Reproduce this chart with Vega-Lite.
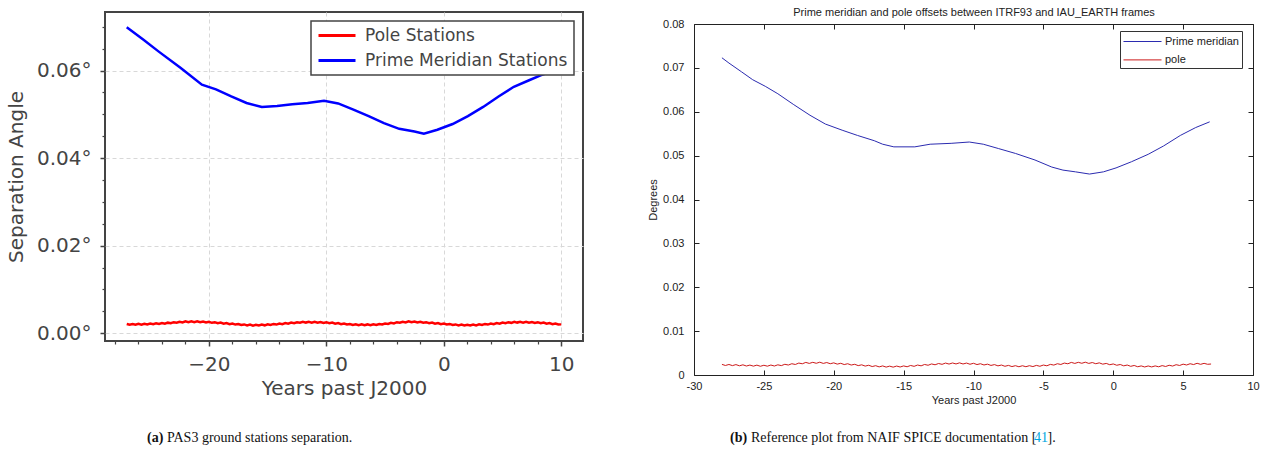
{
  "$schema": "https://vega.github.io/schema/vega-lite/v6.json",
  "background": "white",
  "padding": {"left": 5, "top": 6, "right": 5, "bottom": 5},
  "spacing": 63,
  "align": "none",
  "datasets": {
    "lpm": [
      {"t": -27, "v": 0.0699}, {"t": -25.6, "v": 0.0671}, {"t": -24.3, "v": 0.0644}, {"t": -22.4, "v": 0.0606},
      {"t": -20.6, "v": 0.0568}, {"t": -19.4, "v": 0.0557}, {"t": -18.1, "v": 0.0541}, {"t": -16.8, "v": 0.0526},
      {"t": -15.5, "v": 0.0517}, {"t": -14.2, "v": 0.0519}, {"t": -12.9, "v": 0.0523}, {"t": -11.6, "v": 0.0526},
      {"t": -10.2, "v": 0.0531}, {"t": -9.0, "v": 0.0525}, {"t": -7.7, "v": 0.0511}, {"t": -6.4, "v": 0.0496},
      {"t": -5.1, "v": 0.048}, {"t": -3.8, "v": 0.0467}, {"t": -2.5, "v": 0.0461}, {"t": -1.7, "v": 0.0456},
      {"t": -0.55, "v": 0.0465}, {"t": 0.75, "v": 0.0478}, {"t": 2.05, "v": 0.0496}, {"t": 3.35, "v": 0.0517},
      {"t": 4.66, "v": 0.0541}, {"t": 5.96, "v": 0.0563}, {"t": 7.26, "v": 0.0578}, {"t": 8.24, "v": 0.0589},
      {"t": 9.1, "v": 0.0597}, {"t": 10, "v": 0.0604}
    ],
    "lpole": [
      {"t": -27, "v": 0.0021}, {"t": -26.75, "v": 0.00191}, {"t": -26.5, "v": 0.00209}, {"t": -26.25, "v": 0.0019},
      {"t": -26, "v": 0.00211}, {"t": -25.75, "v": 0.00193}, {"t": -25.5, "v": 0.00214}, {"t": -25.25, "v": 0.00198},
      {"t": -25, "v": 0.00219}, {"t": -24.75, "v": 0.00203}, {"t": -24.5, "v": 0.00226}, {"t": -24.25, "v": 0.00208},
      {"t": -24, "v": 0.00231}, {"t": -23.75, "v": 0.00214}, {"t": -23.5, "v": 0.00239}, {"t": -23.25, "v": 0.00226},
      {"t": -23, "v": 0.0025}, {"t": -22.75, "v": 0.00236}, {"t": -22.5, "v": 0.00259}, {"t": -22.25, "v": 0.00245},
      {"t": -22, "v": 0.00271}, {"t": -21.75, "v": 0.00251}, {"t": -21.5, "v": 0.00269}, {"t": -21.25, "v": 0.0025},
      {"t": -21, "v": 0.0027}, {"t": -20.75, "v": 0.00249}, {"t": -20.5, "v": 0.00266}, {"t": -20.25, "v": 0.00243},
      {"t": -20, "v": 0.00261}, {"t": -19.75, "v": 0.00236}, {"t": -19.5, "v": 0.0025}, {"t": -19.25, "v": 0.00226},
      {"t": -19, "v": 0.0024}, {"t": -18.75, "v": 0.00216}, {"t": -18.5, "v": 0.00229}, {"t": -18.25, "v": 0.00205},
      {"t": -18, "v": 0.00221}, {"t": -17.75, "v": 0.00196}, {"t": -17.5, "v": 0.00209}, {"t": -17.25, "v": 0.00186},
      {"t": -17, "v": 0.00199}, {"t": -16.75, "v": 0.00178}, {"t": -16.5, "v": 0.00196}, {"t": -16.25, "v": 0.00172},
      {"t": -16, "v": 0.00191}, {"t": -15.75, "v": 0.00173}, {"t": -15.5, "v": 0.00194}, {"t": -15.25, "v": 0.00178},
      {"t": -15, "v": 0.002}, {"t": -14.75, "v": 0.00185}, {"t": -14.5, "v": 0.0021}, {"t": -14.25, "v": 0.00196},
      {"t": -14, "v": 0.00221}, {"t": -13.75, "v": 0.00206}, {"t": -13.5, "v": 0.00229}, {"t": -13.25, "v": 0.00215},
      {"t": -13, "v": 0.0024}, {"t": -12.75, "v": 0.00226}, {"t": -12.5, "v": 0.00249}, {"t": -12.25, "v": 0.00236},
      {"t": -12, "v": 0.0026}, {"t": -11.75, "v": 0.00241}, {"t": -11.5, "v": 0.00259}, {"t": -11.25, "v": 0.0024},
      {"t": -11, "v": 0.00261}, {"t": -10.75, "v": 0.00239}, {"t": -10.5, "v": 0.00255}, {"t": -10.25, "v": 0.00233},
      {"t": -10, "v": 0.0025}, {"t": -9.75, "v": 0.00226}, {"t": -9.5, "v": 0.0024}, {"t": -9.25, "v": 0.00216},
      {"t": -9, "v": 0.00229}, {"t": -8.75, "v": 0.00206}, {"t": -8.5, "v": 0.0022}, {"t": -8.25, "v": 0.00196},
      {"t": -8, "v": 0.0021}, {"t": -7.75, "v": 0.00188}, {"t": -7.5, "v": 0.00204}, {"t": -7.25, "v": 0.00183},
      {"t": -7, "v": 0.002}, {"t": -6.75, "v": 0.00181}, {"t": -6.5, "v": 0.00199}, {"t": -6.25, "v": 0.0018},
      {"t": -6, "v": 0.00201}, {"t": -5.75, "v": 0.00185}, {"t": -5.5, "v": 0.00209}, {"t": -5.25, "v": 0.00196},
      {"t": -5, "v": 0.0022}, {"t": -4.75, "v": 0.00208}, {"t": -4.5, "v": 0.00235}, {"t": -4.25, "v": 0.00223},
      {"t": -4, "v": 0.0025}, {"t": -3.75, "v": 0.00236}, {"t": -3.5, "v": 0.0026}, {"t": -3.25, "v": 0.00245},
      {"t": -3, "v": 0.00271}, {"t": -2.75, "v": 0.00248}, {"t": -2.5, "v": 0.00265}, {"t": -2.25, "v": 0.00243},
      {"t": -2, "v": 0.00259}, {"t": -1.75, "v": 0.00236}, {"t": -1.5, "v": 0.0025}, {"t": -1.25, "v": 0.00226},
      {"t": -1, "v": 0.0024}, {"t": -0.75, "v": 0.00216}, {"t": -0.5, "v": 0.00229}, {"t": -0.25, "v": 0.00205},
      {"t": 0, "v": 0.0022}, {"t": 0.25, "v": 0.00196}, {"t": 0.5, "v": 0.0021}, {"t": 0.75, "v": 0.00186},
      {"t": 1, "v": 0.00199}, {"t": 1.25, "v": 0.00178}, {"t": 1.5, "v": 0.00195}, {"t": 1.75, "v": 0.00173},
      {"t": 2, "v": 0.0019}, {"t": 2.25, "v": 0.00173}, {"t": 2.5, "v": 0.00195}, {"t": 2.75, "v": 0.00178},
      {"t": 3, "v": 0.002}, {"t": 3.25, "v": 0.00185}, {"t": 3.5, "v": 0.0021}, {"t": 3.75, "v": 0.00196},
      {"t": 4, "v": 0.00221}, {"t": 4.25, "v": 0.00205}, {"t": 4.5, "v": 0.0023}, {"t": 4.75, "v": 0.00216},
      {"t": 5, "v": 0.0024}, {"t": 5.25, "v": 0.00226}, {"t": 5.5, "v": 0.0025}, {"t": 5.75, "v": 0.00235},
      {"t": 6, "v": 0.0026}, {"t": 6.25, "v": 0.00241}, {"t": 6.5, "v": 0.00259}, {"t": 6.75, "v": 0.0024},
      {"t": 7, "v": 0.00261}, {"t": 7.25, "v": 0.00238}, {"t": 7.5, "v": 0.00255}, {"t": 7.75, "v": 0.00233},
      {"t": 8, "v": 0.0025}, {"t": 8.25, "v": 0.00225}, {"t": 8.5, "v": 0.0024}, {"t": 8.75, "v": 0.00216},
      {"t": 9, "v": 0.00229}, {"t": 9.25, "v": 0.00205}, {"t": 9.5, "v": 0.0022}, {"t": 9.75, "v": 0.00196},
      {"t": 10, "v": 0.002}
    ],
    "rpm": [
      {"t": -28, "v": 0.0723}, {"t": -27.5, "v": 0.0711}, {"t": -26.6, "v": 0.0691}, {"t": -25.8, "v": 0.0673},
      {"t": -24.9, "v": 0.0658}, {"t": -24.0, "v": 0.0641}, {"t": -22.9, "v": 0.0617}, {"t": -21.7, "v": 0.0592},
      {"t": -20.6, "v": 0.0572}, {"t": -19.4, "v": 0.0558}, {"t": -18.3, "v": 0.0546}, {"t": -17.1, "v": 0.0534},
      {"t": -16.5, "v": 0.0526}, {"t": -15.7, "v": 0.052}, {"t": -14.2, "v": 0.052}, {"t": -13.1, "v": 0.0526},
      {"t": -11.6, "v": 0.0528}, {"t": -10.3, "v": 0.0531}, {"t": -9.3, "v": 0.0526}, {"t": -8.2, "v": 0.0516},
      {"t": -7.0, "v": 0.0505}, {"t": -5.6, "v": 0.049}, {"t": -4.4, "v": 0.0474}, {"t": -3.6, "v": 0.0467},
      {"t": -2.7, "v": 0.0463}, {"t": -1.7, "v": 0.0458}, {"t": -0.7, "v": 0.0463}, {"t": 0.2, "v": 0.0472},
      {"t": 1.3, "v": 0.0486}, {"t": 2.5, "v": 0.0503}, {"t": 3.6, "v": 0.0522}, {"t": 4.8, "v": 0.0546},
      {"t": 5.9, "v": 0.0564}, {"t": 6.9, "v": 0.0577}
    ],
    "rpole": [
      {"t": -28, "v": 0.00242}, {"t": -27.75, "v": 0.00217}, {"t": -27.5, "v": 0.0024}, {"t": -27.25, "v": 0.00214},
      {"t": -27, "v": 0.00237}, {"t": -26.75, "v": 0.0021}, {"t": -26.5, "v": 0.00232}, {"t": -26.25, "v": 0.00205},
      {"t": -26, "v": 0.00226}, {"t": -25.75, "v": 0.00202}, {"t": -25.5, "v": 0.00225}, {"t": -25.25, "v": 0.00199},
      {"t": -25, "v": 0.00222}, {"t": -24.75, "v": 0.00201}, {"t": -24.5, "v": 0.00227}, {"t": -24.25, "v": 0.00205},
      {"t": -24, "v": 0.00232}, {"t": -23.75, "v": 0.00214}, {"t": -23.5, "v": 0.00244}, {"t": -23.25, "v": 0.00227},
      {"t": -23, "v": 0.00257}, {"t": -22.75, "v": 0.0024}, {"t": -22.5, "v": 0.00272}, {"t": -22.25, "v": 0.00256},
      {"t": -22, "v": 0.00287}, {"t": -21.75, "v": 0.00264}, {"t": -21.5, "v": 0.00289}, {"t": -21.25, "v": 0.00267},
      {"t": -21, "v": 0.00292}, {"t": -20.75, "v": 0.00264}, {"t": -20.5, "v": 0.00284}, {"t": -20.25, "v": 0.00257},
      {"t": -20, "v": 0.00277}, {"t": -19.75, "v": 0.00248}, {"t": -19.5, "v": 0.00267}, {"t": -19.25, "v": 0.00238},
      {"t": -19, "v": 0.00257}, {"t": -18.75, "v": 0.00227}, {"t": -18.5, "v": 0.00244}, {"t": -18.25, "v": 0.00214},
      {"t": -18, "v": 0.00232}, {"t": -17.75, "v": 0.00203}, {"t": -17.5, "v": 0.00222}, {"t": -17.25, "v": 0.00193},
      {"t": -17, "v": 0.00212}, {"t": -16.75, "v": 0.00185}, {"t": -16.5, "v": 0.00207}, {"t": -16.25, "v": 0.0018},
      {"t": -16, "v": 0.00202}, {"t": -15.75, "v": 0.00179}, {"t": -15.5, "v": 0.00204}, {"t": -15.25, "v": 0.00182},
      {"t": -15, "v": 0.00207}, {"t": -14.75, "v": 0.00188}, {"t": -14.5, "v": 0.00217}, {"t": -14.25, "v": 0.00198},
      {"t": -14, "v": 0.00227}, {"t": -13.75, "v": 0.00209}, {"t": -13.5, "v": 0.0024}, {"t": -13.25, "v": 0.00222},
      {"t": -13, "v": 0.00252}, {"t": -12.75, "v": 0.00233}, {"t": -12.5, "v": 0.00262}, {"t": -12.25, "v": 0.00243},
      {"t": -12, "v": 0.00272}, {"t": -11.75, "v": 0.00249}, {"t": -11.5, "v": 0.00274}, {"t": -11.25, "v": 0.00252},
      {"t": -11, "v": 0.00277}, {"t": -10.75, "v": 0.00251}, {"t": -10.5, "v": 0.00272}, {"t": -10.25, "v": 0.00245},
      {"t": -10, "v": 0.00267}, {"t": -9.75, "v": 0.00238}, {"t": -9.5, "v": 0.00257}, {"t": -9.25, "v": 0.00228},
      {"t": -9, "v": 0.00247}, {"t": -8.75, "v": 0.00218}, {"t": -8.5, "v": 0.00237}, {"t": -8.25, "v": 0.00208},
      {"t": -8, "v": 0.00227}, {"t": -7.75, "v": 0.00199}, {"t": -7.5, "v": 0.00219}, {"t": -7.25, "v": 0.00192},
      {"t": -7, "v": 0.00212}, {"t": -6.75, "v": 0.00188}, {"t": -6.5, "v": 0.00211}, {"t": -6.25, "v": 0.00189},
      {"t": -6, "v": 0.00212}, {"t": -5.75, "v": 0.00192}, {"t": -5.5, "v": 0.00219}, {"t": -5.25, "v": 0.00199},
      {"t": -5, "v": 0.00227}, {"t": -4.75, "v": 0.0021}, {"t": -4.5, "v": 0.00242}, {"t": -4.25, "v": 0.00226},
      {"t": -4, "v": 0.00257}, {"t": -3.75, "v": 0.0024}, {"t": -3.5, "v": 0.00272}, {"t": -3.25, "v": 0.00256},
      {"t": -3, "v": 0.00287}, {"t": -2.75, "v": 0.00264}, {"t": -2.5, "v": 0.00289}, {"t": -2.25, "v": 0.00267},
      {"t": -2, "v": 0.00292}, {"t": -1.75, "v": 0.00264}, {"t": -1.5, "v": 0.00284}, {"t": -1.25, "v": 0.00257},
      {"t": -1, "v": 0.00277}, {"t": -0.75, "v": 0.00247}, {"t": -0.5, "v": 0.00264}, {"t": -0.25, "v": 0.00234},
      {"t": 0, "v": 0.00252}, {"t": 0.25, "v": 0.00222}, {"t": 0.5, "v": 0.00239}, {"t": 0.75, "v": 0.00209},
      {"t": 1, "v": 0.00227}, {"t": 1.25, "v": 0.00198}, {"t": 1.5, "v": 0.00217}, {"t": 1.75, "v": 0.00188},
      {"t": 2, "v": 0.00207}, {"t": 2.25, "v": 0.00183}, {"t": 2.5, "v": 0.00206}, {"t": 2.75, "v": 0.00184},
      {"t": 3, "v": 0.00207}, {"t": 3.25, "v": 0.00187}, {"t": 3.5, "v": 0.00214}, {"t": 3.75, "v": 0.00194},
      {"t": 4, "v": 0.00222}, {"t": 4.25, "v": 0.00204}, {"t": 4.5, "v": 0.00235}, {"t": 4.75, "v": 0.00217},
      {"t": 5, "v": 0.00247}, {"t": 5.25, "v": 0.00228}, {"t": 5.5, "v": 0.00257}, {"t": 5.75, "v": 0.00238},
      {"t": 6, "v": 0.00267}, {"t": 6.25, "v": 0.00243}, {"t": 6.5, "v": 0.00266}, {"t": 6.75, "v": 0.00244},
      {"t": 7, "v": 0.0025}
    ]
  },
  "hconcat": [
    {
      "title": {"text": "(a)", "orient": "bottom", "anchor": "start", "frame": "group", "dx": 42, "font": "Liberation Serif", "fontSize": 14, "fontWeight": "bold", "color": "#111111", "offset": -14, "baseline": "top"},
      "resolve": {"scale": {"color": "independent"}},
      "vconcat": [
        {
          "title": {"text": "PAS3 ground stations separation.", "orient": "bottom", "anchor": "start", "frame": "group", "dx": 62, "font": "Liberation Serif", "fontSize": 14, "fontWeight": "normal", "color": "#111111", "offset": 32, "baseline": "top"},
          "resolve": {"scale": {"color": "independent"}},
          "vconcat": [
            {
              "width": 478,
              "height": 329,
              "view": {"stroke": "#444444", "strokeWidth": 2},
              "resolve": {"axis": {"x": "independent", "y": "independent"}},
              "layer": [
                {
                  "data": {"name": "lpole"},
                  "mark": {"type": "line", "strokeWidth": 2.5},
                  "encoding": {
                    "x": {
                      "field": "t", "type": "quantitative",
                      "scale": {"domain": [-28.85, 11.85], "nice": false, "zero": false},
                      "axis": {
                        "title": "Years past J2000",
                        "values": [-20, -10, 0, 10],
                        "tickSize": 5, "tickColor": "#444444", "tickWidth": 1.5,
                        "grid": true, "gridColor": "#d8d8d8", "gridDash": [4, 3], "gridWidth": 1,
                        "domain": false,
                        "labelFont": "DejaVu Sans", "labelFontSize": 20, "labelColor": "#444444", "labelPadding": 8,
                        "labelFlush": false, "labelOverlap": false,
                        "titleFont": "DejaVu Sans", "titleFontSize": 20, "titleFontWeight": "normal", "titleColor": "#444444", "titlePadding": 4
                      }
                    },
                    "y": {
                      "field": "v", "type": "quantitative",
                      "scale": {"domain": [-0.0018, 0.0734], "nice": false, "zero": false},
                      "axis": {
                        "title": "Separation Angle",
                        "values": [0, 0.02, 0.04, 0.06],
                        "labelExpr": "format(datum.value, '.2f') + '°'",
                        "tickSize": 5, "tickColor": "#444444", "tickWidth": 1.5,
                        "grid": true, "gridColor": "#d8d8d8", "gridDash": [4, 3], "gridWidth": 1,
                        "domain": false,
                        "labelFont": "DejaVu Sans", "labelFontSize": 20, "labelColor": "#444444", "labelPadding": 9,
                        "labelOverlap": false,
                        "titleFont": "DejaVu Sans", "titleFontSize": 20, "titleFontWeight": "normal", "titleColor": "#444444", "titlePadding": 10
                      }
                    },
                    "color": {
                      "datum": "Pole Stations", "type": "nominal",
                      "scale": {"domain": ["Pole Stations", "Prime Meridian Stations"], "range": ["#ff0000", "#0000ff"]},
                      "legend": {
                        "title": null, "orient": "top-right", "offset": 9,
                        "fillColor": "white", "strokeColor": "#444444", "padding": 6,
                        "labelFont": "DejaVu Sans", "labelFontSize": 17, "labelColor": "#444444", "labelLimit": 400,
                        "symbolType": "M-2.643,0H2.643", "symbolSize": 196, "symbolStrokeWidth": 3, "symbolOffset": 11.5,
                        "labelOffset": 19.5, "rowPadding": 7,
                        "encode": {"legend": {"update": {"strokeWidth": {"value": 1.5}}}}
                      }
                    }
                  }
                },
                {
                  "data": {"name": "lpm"},
                  "mark": {"type": "line", "strokeWidth": 2.5},
                  "encoding": {
                    "x": {"field": "t", "type": "quantitative", "axis": null},
                    "y": {"field": "v", "type": "quantitative", "axis": null},
                    "color": {"datum": "Prime Meridian Stations", "type": "nominal"}
                  }
                },
                {
                  "data": {"name": "lpm"},
                  "mark": {"type": "point", "opacity": 0},
                  "encoding": {
                    "x": {
                      "field": "t", "type": "quantitative",
                      "axis": {"orient": "bottom", "values": [-28, -26, -24, -22, -18, -16, -14, -12, -8, -6, -4, -2, 2, 4, 6, 8], "labels": false, "title": null, "tickSize": 3, "tickColor": "#444444", "tickWidth": 1.2, "domain": false, "grid": false}
                    },
                    "y": {
                      "field": "v", "type": "quantitative",
                      "axis": {"orient": "left", "values": [0.005, 0.01, 0.015, 0.025, 0.03, 0.035, 0.045, 0.05, 0.055, 0.065, 0.07], "labels": false, "title": null, "tickSize": 3, "tickColor": "#444444", "tickWidth": 1.2, "domain": false, "grid": false}
                    }
                  }
                }
              ]
            }
          ]
        }
      ]
    },
    {
      "title": {"text": "].", "orient": "bottom", "anchor": "start", "frame": "group", "dx": 353.6, "font": "Liberation Serif", "fontSize": 14, "fontWeight": "normal", "color": "#111111", "offset": -14, "baseline": "top"},
      "resolve": {"scale": {"color": "independent"}},
      "vconcat": [
        {
          "title": {"text": "41", "orient": "bottom", "anchor": "start", "frame": "group", "dx": 340, "font": "Liberation Serif", "fontSize": 14, "fontWeight": "normal", "color": "#00a6e0", "offset": -14, "baseline": "top"},
          "resolve": {"scale": {"color": "independent"}},
          "vconcat": [
            {
              "title": {"text": "(b)", "orient": "bottom", "anchor": "start", "frame": "group", "dx": 36, "font": "Liberation Serif", "fontSize": 14, "fontWeight": "bold", "color": "#111111", "offset": -14, "baseline": "top"},
              "resolve": {"scale": {"color": "independent"}},
              "vconcat": [
                {
                  "title": {"text": "Reference plot from NAIF SPICE documentation [", "orient": "bottom", "anchor": "start", "frame": "group", "dx": 57, "font": "Liberation Serif", "fontSize": 14, "fontWeight": "normal", "color": "#111111", "offset": 26, "baseline": "top"},
                  "resolve": {"scale": {"color": "independent"}},
                  "vconcat": [
                    {
                      "width": 559,
                      "height": 363,
                      "view": {"stroke": null},
                      "resolve": {"axis": {"x": "independent", "y": "independent"}},
                      "layer": [
                        {
                          "data": {"name": "rpm"},
                          "mark": {"type": "line", "strokeWidth": 1},
                          "encoding": {
                            "x": {
                              "field": "t", "type": "quantitative",
                              "scale": {"domain": [-30, 10], "nice": false, "zero": false},
                              "axis": {
                                "title": "Years past J2000",
                                "values": [-30, -25, -20, -15, -10, -5, 0, 5, 10],
                                "labelExpr": "(datum.value < 0 ? '-' : '') + abs(datum.value)",
                                "tickSize": -5, "tickColor": "#222222", "grid": false,
                                "domain": true, "domainColor": "#222222", "domainWidth": 1,
                                "labelFont": "Liberation Sans", "labelFontSize": 11, "labelColor": "#222222", "labelPadding": 10,
                                "labelFlush": false, "labelOverlap": false,
                                "titleFont": "Liberation Sans", "titleFontSize": 11, "titleFontWeight": "normal", "titleColor": "#222222", "titlePadding": 3
                              }
                            },
                            "y": {
                              "field": "v", "type": "quantitative",
                              "scale": {"domain": [0, 0.08], "range": [363, 12], "nice": false, "zero": false},
                              "axis": {
                                "title": "Degrees",
                                "values": [0, 0.01, 0.02, 0.03, 0.04, 0.05, 0.06, 0.07, 0.08],
                                "labelExpr": "datum.value === 0 ? '0' : format(datum.value, '.2f')",
                                "tickSize": -5, "tickColor": "#222222", "grid": false,
                                "domain": true, "domainColor": "#222222", "domainWidth": 1,
                                "labelFont": "Liberation Sans", "labelFontSize": 11, "labelColor": "#222222", "labelPadding": 15,
                                "labelOverlap": false,
                                "titleFont": "Liberation Sans", "titleFontSize": 11, "titleFontWeight": "normal", "titleColor": "#222222", "titlePadding": 4
                              }
                            },
                            "color": {
                              "datum": "Prime meridian", "type": "nominal",
                              "scale": {"domain": ["Prime meridian", "pole"], "range": ["#2b2bb0", "#cc1a1a"]},
                              "legend": {
                                "title": null, "orient": "none", "legendX": 426, "legendY": 19,
                                "fillColor": "white", "strokeColor": "#333333", "padding": 3,
                                "labelFont": "Liberation Sans", "labelFontSize": 11, "labelColor": "#222222", "labelLimit": 400,
                                "symbolType": "M-2.836,0H2.836", "symbolSize": 180, "symbolStrokeWidth": 1, "symbolOffset": 12,
                                "labelOffset": 15, "rowPadding": 5.4
                              }
                            }
                          }
                        },
                        {
                          "data": {"name": "rpole"},
                          "mark": {"type": "line", "strokeWidth": 1},
                          "encoding": {
                            "x": {"field": "t", "type": "quantitative", "axis": null},
                            "y": {"field": "v", "type": "quantitative", "axis": null},
                            "color": {"datum": "pole", "type": "nominal"}
                          }
                        },
                        {
                          "data": {"name": "rpm"},
                          "mark": {"type": "point", "opacity": 0},
                          "encoding": {
                            "x": {
                              "field": "t", "type": "quantitative",
                              "axis": {
                                "orient": "top", "offset": -12,
                                "values": [-30, -25, -20, -15, -10, -5, 0, 5, 10], "labels": false,
                                "title": "Prime meridian and pole offsets between ITRF93 and IAU_EARTH frames",
                                "titleFont": "Liberation Sans", "titleFontSize": 11, "titleFontWeight": "normal", "titleColor": "#222222", "titlePadding": 6,
                                "tickSize": -5, "tickColor": "#222222", "grid": false,
                                "domain": true, "domainColor": "#222222", "domainWidth": 1
                              }
                            },
                            "y": {
                              "field": "v", "type": "quantitative",
                              "axis": {
                                "orient": "right", "values": [0, 0.01, 0.02, 0.03, 0.04, 0.05, 0.06, 0.07, 0.08], "labels": false, "title": null,
                                "tickSize": -5, "tickColor": "#222222", "grid": false,
                                "domain": true, "domainColor": "#222222", "domainWidth": 1
                              }
                            }
                          }
                        }
                      ]
                    }
                  ]
                }
              ]
            }
          ]
        }
      ]
    }
  ]
}
